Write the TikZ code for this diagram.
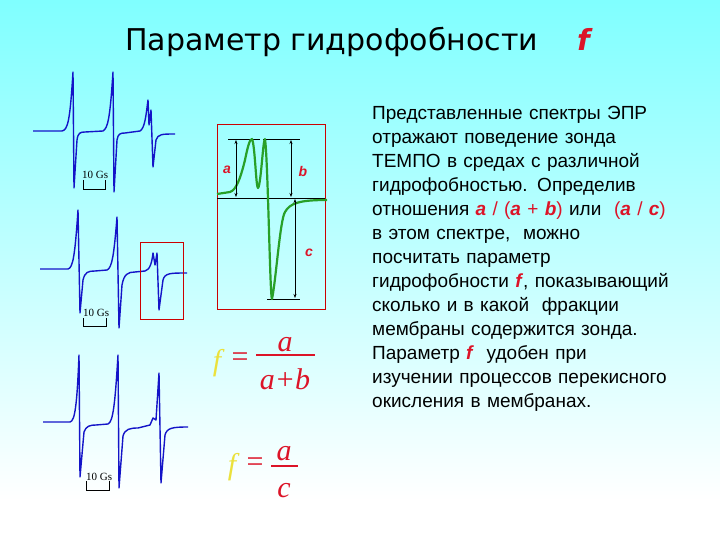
\documentclass[tikz,border=0pt]{standalone}
\usepackage{fontspec}
\setmainfont{Liberation Sans}
\newfontfamily\titlefont{DejaVu Sans}
\newfontfamily\mathserif{Liberation Serif}
\usetikzlibrary{arrows.meta}
\definecolor{specblue}{RGB}{20,20,200}
\definecolor{specgreen}{RGB}{40,160,40}
\definecolor{fred}{RGB}{220,20,40}
\definecolor{fyel}{RGB}{235,225,60}
\tikzset{
 spec/.style={specblue,line width=1.4pt,line join=round},
 gspec/.style={specgreen,line width=2.2pt,line join=round},
 redbox/.style={draw=red!80!black,line width=0.6pt},
 bar/.style={black,line width=0.5pt},
 dim/.style={black,line width=0.6pt,{Stealth[length=4pt]}-{Stealth[length=4pt]}},
 lbl/.style={text=fred,font=\fontsize{14}{14}\selectfont\bfseries\itshape},
 gs/.style={font=\mathserif\fontsize{11}{11}\selectfont,inner sep=0pt},
 fml/.style={inner sep=0pt,font=\mathserif\itshape\fontsize{30}{30}\selectfont}
}
\begin{document}
\begin{tikzpicture}[x=1pt,y=-1pt]
\shade[top color=cyan!50,bottom color=white] (0,0) rectangle (720,500);
\fill[white] (0,500) rectangle (720,540);
\useasboundingbox (0,0) rectangle (720,540);
% title
\node[anchor=base west,inner sep=0pt,font=\titlefont\fontsize{30}{30}\selectfont] (title) at (125,51) {Параметр гидрофобности};
\node[anchor=base west,inner sep=0pt,text=fred,font=\titlefont\fontsize{29}{29}\selectfont\bfseries\itshape] (tf) at (577,51) {f};
% spectrum 1
\draw[spec] (33,131) -- (62,131) .. controls (68,130) and (70,120) .. (73,72) -- (74,188) -- (77,140) .. controls (78,133) and (80,132) .. (85,132) -- (103,131) .. controls (108,128) and (110,118) .. (113,72) -- (114,192) -- (117,140) .. controls (118,134) and (120,133) .. (125,133) -- (140,131) .. controls (145,128) and (146,115) .. (148,100) -- (149,125) -- (151,110) -- (153,167) -- (156,140) .. controls (158,134) and (162,134) .. (175,134);
\node[gs,anchor=base west] (g1) at (82,179) {10 Gs};
\draw[bar] (83,180) -- (83,189) -- (105,189) -- (105,180);
% spectrum 2
\draw[spec] (40,269) -- (68,269) .. controls (73,268) and (75,255) .. (78,210) -- (80,313) -- (83,280) .. controls (85,272) and (88,271) .. (95,271) -- (107,270) .. controls (112,268) and (114,255) .. (117,217) -- (119,328) -- (122,285) .. controls (124,274) and (128,272) .. (135,272) -- (145,271) .. controls (150,270) and (152,262) .. (153,253) -- (155,265) -- (157,253) -- (159,310) -- (163,280) .. controls (165,273) and (170,273) .. (187,273);
\draw[redbox] (140,242) rectangle (183,319);
\node[gs,anchor=base west] (g2) at (83,316) {10 Gs};
\draw[bar] (83,318) -- (83,326) -- (106,326) -- (106,318);
% spectrum 3
\draw[spec] (43,422) -- (70,422) .. controls (75,421) and (77,405) .. (79,355) -- (80,477) -- (84,432) .. controls (86,426) and (90,425) .. (96,425) -- (108,424) .. controls (113,422) and (115,405) .. (118,355) -- (119,488) -- (123,436) .. controls (125,429) and (130,428) .. (138,428) -- (150,425) -- (153,418) -- (156,420) -- (159,373) -- (161,483) -- (165,435) .. controls (167,428) and (172,427) .. (188,427);
\node[gs,anchor=base west] (g3) at (86,480) {10 Gs};
\draw[bar] (86,481) -- (86,490) -- (109,490) -- (109,481);
% green panel
\draw[redbox] (217,124) rectangle (325,309);
\draw[black,line width=0.6pt] (217,198) -- (325,198);
\draw[black,line width=0.6pt] (228,139) -- (260,139) (263,139) -- (300,139) (267,299) -- (300,299);
\draw[gspec] (217,194) -- (230,192) .. controls (236,190) and (240,180) .. (245,160) .. controls (248,145) and (250,139) .. (252,139) .. controls (255,145) and (256,188) .. (258,188) .. controls (261,185) and (263,139) .. (265,139) .. controls (268,160) and (270,299) .. (272,299) .. controls (276,280) and (280,220) .. (285,212) .. controls (290,203) and (300,200) .. (327,200);
\coordinate (a1) at (236,140); \coordinate (a2) at (236,197);
\coordinate (b1) at (291,140); \coordinate (b2) at (291,197);
\coordinate (c1) at (295,199); \coordinate (c2) at (295,298);
\draw[dim] (a1) -- (a2);
\draw[dim,line width=1pt] (b1) -- (b2);
\draw[dim] (c1) -- (c2);
\node[lbl] (la) at (227,170) {a};
\node[lbl] (lb) at (303,171) {b};
\node[lbl] (lc) at (309,253) {c};
% formulas
\node[fml,text=fyel] (f1f) at (217,363) {f};
\node[fml,text=fred,font=\mathserif\fontsize{30}{30}\selectfont] (f1e) at (240,360) {=};
\node[fml,text=fred,anchor=base] (f1n) at (285,351) {a};
\node[fml,text=fred,anchor=base] (f1d) at (285,389) {a+b};
\draw[fred,line width=1.5pt] (256,355) -- (315,355);
\node[fml,text=fyel] (f2f) at (232,467) {f};
\node[fml,text=fred,font=\mathserif\fontsize{30}{30}\selectfont] (f2e) at (255,465) {=};
\node[fml,text=fred,anchor=base] (f2n) at (284,460) {a};
\node[fml,text=fred,anchor=base] (f2d) at (284,497) {c};
\draw[fred,line width=1.5pt] (271,466) -- (298,466);
% text
\node[anchor=north west,inner sep=0pt,text width=345pt,align=left,font=\fontsize{19}{24}\selectfont] (txt) at (372,106) {Представленные спектры ЭПР\\ отражают поведение зонда\\ ТЕМПО в средах с различной\\ гидрофобностью. Определив\\ отношения \textcolor{fred}{\textbf{\textit{a}} / (\textbf{\textit{a}} + \textbf{\textit{b}})} или \ \textcolor{fred}{(\textbf{\textit{a}} / \textbf{\textit{c}})}\\ в этом спектре, \ можно\\ посчитать параметр\\ гидрофобности \textcolor{fred}{\textbf{\textit{f}}}, показывающий\\ сколько и в какой \ фракции\\ мембраны содержится зонда.\\ Параметр \textcolor{fred}{\textbf{\textit{f}}} \ удобен при\\ изучении процессов перекисного\\ окисления в мембранах.};
\end{tikzpicture}
\end{document}
